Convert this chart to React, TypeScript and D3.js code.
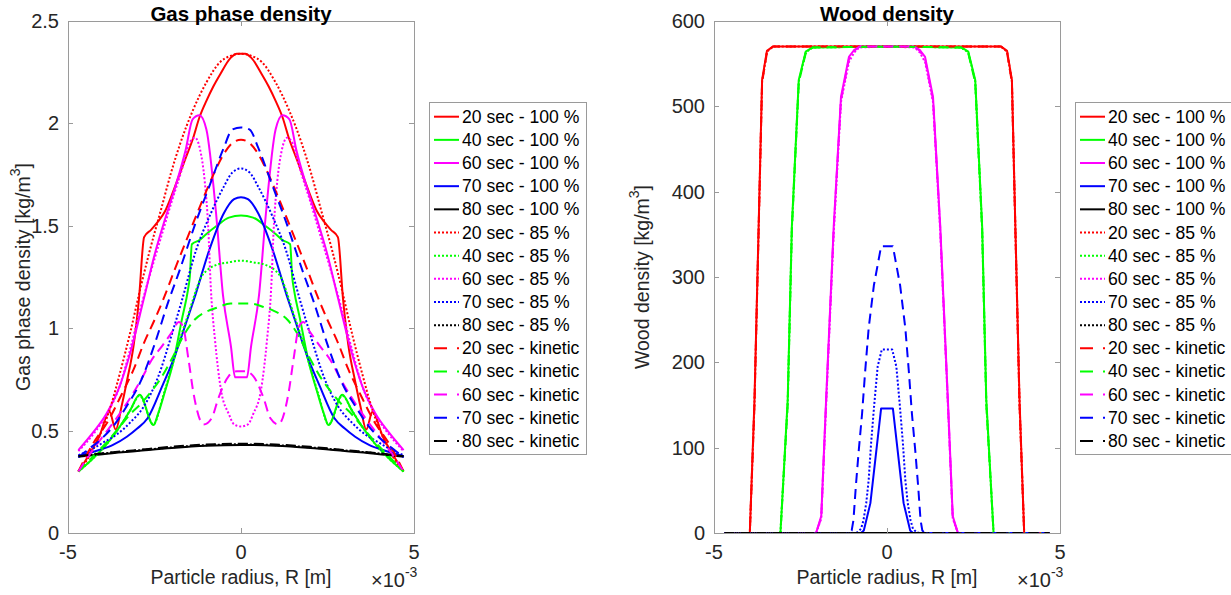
import React from 'react';
import * as d3 from 'd3';

const W = 1231;
const H = 595;

// ---- Gas phase density half-profiles (radius mm, density kg/m3) ----
const gasR_20_100 = [0, 0.12, 0.3, 0.6, 0.8, 1.0, 1.2, 1.4, 1.6, 1.8, 2.0, 2.2, 2.4, 2.6, 2.8, 2.95, 3.1, 3.3, 3.45, 3.62, 3.8, 4.1, 4.4, 4.7];
const gas_20_100 = [2.34, 2.34, 2.32, 2.24, 2.18, 2.11, 2.03, 1.92, 1.83, 1.74, 1.65, 1.57, 1.52, 1.48, 1.445, 1.14, 0.92, 0.74, 0.62, 0.505, 0.592, 0.47, 0.38, 0.3];
const gasR_40_100 = [0, 0.35, 0.7, 1.0, 1.2, 1.42, 1.48, 1.53, 1.7, 1.95, 2.2, 2.4, 2.53, 2.93, 3.2, 3.5, 3.9, 4.3, 4.7];
const gas_40_100 = [1.55, 1.54, 1.5, 1.46, 1.43, 1.41, 1.25, 1.19, 1.05, 0.84, 0.69, 0.58, 0.527, 0.675, 0.6, 0.52, 0.43, 0.36, 0.3];
const gasR_60_100 = [0, 0.17, 0.29, 0.52, 0.72, 1.0, 1.2, 1.4, 1.6, 1.9, 2.2, 2.48, 2.8, 3.2, 3.5, 3.88, 4.28, 4.7];
const gas_60_100 = [0.76, 0.76, 0.91, 1.16, 1.56, 1.97, 2.04, 2.02, 1.87, 1.69, 1.53, 1.37, 1.15, 0.88, 0.72, 0.585, 0.49, 0.405];
const gasR_70_100 = [0, 0.2, 0.5, 0.9, 1.36, 1.6, 1.9, 2.27, 2.7, 3.0, 3.3, 3.7, 4.1, 4.7];
const gas_70_100 = [1.64, 1.63, 1.56, 1.39, 1.14, 1.02, 0.87, 0.72, 0.56, 0.51, 0.47, 0.43, 0.405, 0.375];
const gasR_80_100 = [0, 1, 2, 3, 4, 4.7];
const gas_80_100 = [0.43, 0.426, 0.415, 0.4, 0.385, 0.372];

const gasR_20_85 = [0, 0.3, 0.6, 1.0, 1.4, 1.76, 2.02, 2.31, 2.65, 2.9, 3.2, 3.5, 3.8, 4.1, 4.4, 4.7];
const gas_20_85 = [2.34, 2.33, 2.3, 2.2, 2.06, 1.9, 1.76, 1.58, 1.37, 1.2, 0.98, 0.78, 0.6, 0.47, 0.37, 0.3];
const gasR_40_85 = [0, 0.4, 0.7, 1.0, 1.15, 1.33, 1.5, 1.7, 2.0, 2.25, 2.53, 2.93, 3.2, 3.5, 3.9, 4.3, 4.7];
const gas_40_85 = [1.33, 1.32, 1.31, 1.28, 1.25, 1.17, 1.08, 0.98, 0.81, 0.67, 0.53, 0.67, 0.6, 0.52, 0.43, 0.36, 0.3];
const gasR_60_85 = [0, 0.2, 0.35, 0.58, 0.75, 0.87, 0.95, 1.05, 1.18, 1.33, 1.5, 1.7, 2.0, 2.3, 2.6, 2.9, 3.2, 3.5, 3.88, 4.28, 4.7];
const gas_60_85 = [0.52, 0.53, 0.58, 0.7, 0.94, 1.19, 1.5, 1.72, 1.87, 1.93, 1.9, 1.78, 1.62, 1.45, 1.28, 1.1, 0.9, 0.72, 0.58, 0.48, 0.4];
const gasR_70_85 = [0, 0.25, 0.5, 0.9, 1.3, 1.7, 2.0, 2.4, 2.8, 3.2, 3.6, 4.0, 4.3, 4.7];
const gas_70_85 = [1.78, 1.76, 1.69, 1.55, 1.38, 1.14, 0.97, 0.76, 0.62, 0.54, 0.48, 0.44, 0.41, 0.38];
const gasR_80_85 = [0, 1, 2, 3, 4, 4.7];
const gas_80_85 = [0.433, 0.429, 0.418, 0.403, 0.388, 0.374];

const gasR_20_kin = [0, 0.2, 0.5, 0.77, 1.15, 1.53, 1.93, 2.2, 2.5, 2.8, 3.1, 3.44, 3.83, 4.3, 4.7];
const gas_20_kin = [1.92, 1.91, 1.85, 1.76, 1.61, 1.45, 1.28, 1.16, 1.04, 0.93, 0.8, 0.68, 0.55, 0.43, 0.3];
const gasR_40_kin = [0, 0.3, 0.7, 0.95, 1.35, 1.64, 1.97, 2.3, 2.6, 2.9, 3.2, 3.5, 3.9, 4.3, 4.7];
const gas_40_kin = [1.12, 1.12, 1.1, 1.085, 1.04, 0.97, 0.86, 0.76, 0.69, 0.63, 0.58, 0.52, 0.44, 0.37, 0.3];
const gasR_60_kin = [0, 0.12, 0.36, 0.65, 0.85, 1.08, 1.37, 1.52, 1.68, 1.8, 2.0, 2.25, 2.6, 2.85, 3.2, 3.6, 4.0, 4.35, 4.7];
const gas_60_kin = [0.79, 0.79, 0.765, 0.66, 0.56, 0.53, 0.68, 0.85, 1.01, 1.03, 0.98, 0.92, 0.84, 0.76, 0.66, 0.56, 0.47, 0.39, 0.3];
const gasR_70_kin = [0, 0.25, 0.5, 0.9, 1.3, 1.8, 2.1, 2.5, 2.9, 3.3, 3.7, 4.1, 4.4, 4.7];
const gas_70_kin = [1.98, 1.97, 1.88, 1.7, 1.52, 1.27, 1.13, 0.92, 0.74, 0.62, 0.52, 0.45, 0.41, 0.37];
const gasR_80_kin = [0, 1, 2, 3, 4, 4.7];
const gas_80_kin = [0.436, 0.432, 0.421, 0.405, 0.389, 0.375];

// ---- Wood density half-profiles (radius mm, density kg/m3) ----
const woodR_20 = [0, 3.3, 3.47, 3.61, 3.71, 3.83, 3.965, 4.7];
const wood_20_100 = [570, 570, 565, 531, 359, 156, 0, 0];
const wood_20_85 = [570, 570, 564, 529, 356, 152, 0, 0];
const wood_20_kin = [570, 570, 563, 528, 355, 150, 0, 0];
const woodR_40 = [0, 2.15, 2.35, 2.55, 2.75, 2.87, 3.08, 4.7];
const wood_40_100 = [570, 569, 564, 531, 359, 156, 0, 0];
const wood_40_85 = [570, 569, 563, 529, 357, 153, 0, 0];
const wood_40_kin = [570, 569, 562, 528, 355, 150, 0, 0];
const woodR_60 = [0, 0.8, 0.95, 1.1, 1.33, 1.54, 1.76, 1.9, 2.05, 4.7];
const wood_60_100 = [570, 570, 566, 558, 511, 359, 156, 20, 0, 0];
const wood_60_85 = [570, 569, 563, 552, 505, 352, 150, 17, 0, 0];
const wood_60_kin = [570, 570, 565, 555, 508, 356, 153, 18, 0, 0];
const woodR_70_100 = [0, 0.17, 0.48, 0.67, 0.75, 4.7];
const wood_70_100 = [146, 146, 35, 3, 0, 0];
const woodR_70_85 = [0, 0.15, 0.27, 0.37, 0.46, 0.53, 0.6, 0.68, 0.75, 0.85, 0.95, 4.7];
const wood_70_85 = [215, 215, 195, 150, 105, 62, 35, 15, 5, 1, 0, 0];
const woodR_70_kin = [0, 0.17, 0.22, 0.38, 0.53, 0.63, 0.72, 0.82, 0.9, 0.97, 1.02, 1.1, 4.7];
const wood_70_kin = [336, 336, 325, 290, 240, 190, 140, 95, 55, 15, 3, 0, 0];
const woodR_80 = [0, 4.7];
const wood_80 = [0, 0];

const times = ['20 sec', '40 sec', '60 sec', '70 sec', '80 sec'];
const cases = ['100 %', '85 %', 'kinetic'];
const colors = ['#ff0000', '#00ff00', '#ff00ff', '#0000ff', '#000000'];
const dashes = [null, '2,2', '10,6'];

const gasTicks = [0, 0.5, 1, 1.5, 2, 2.5];
const woodTicks = [0, 100, 200, 300, 400, 500, 600];
const xTicks = [-5, 0, 5];

const gasData = [
  [gasR_20_100, gas_20_100], [gasR_40_100, gas_40_100], [gasR_60_100, gas_60_100], [gasR_70_100, gas_70_100], [gasR_80_100, gas_80_100],
  [gasR_20_85, gas_20_85], [gasR_40_85, gas_40_85], [gasR_60_85, gas_60_85], [gasR_70_85, gas_70_85], [gasR_80_85, gas_80_85],
  [gasR_20_kin, gas_20_kin], [gasR_40_kin, gas_40_kin], [gasR_60_kin, gas_60_kin], [gasR_70_kin, gas_70_kin], [gasR_80_kin, gas_80_kin],
];
const woodData = [
  [woodR_20, wood_20_100], [woodR_40, wood_40_100], [woodR_60, wood_60_100], [woodR_70_100, wood_70_100], [woodR_80, wood_80],
  [woodR_20, wood_20_85], [woodR_40, wood_40_85], [woodR_60, wood_60_85], [woodR_70_85, wood_70_85], [woodR_80, wood_80],
  [woodR_20, wood_20_kin], [woodR_40, wood_40_kin], [woodR_60, wood_60_kin], [woodR_70_kin, wood_70_kin], [woodR_80, wood_80],
];

function mirror(r: number[], v: number[]): [number, number][] {
  const pts: [number, number][] = [];
  for (let i = r.length - 1; i >= 0; i--) if (r[i] !== 0) pts.push([-r[i] * 1e-3, v[i]]);
  for (let i = 0; i < r.length; i++) pts.push([r[i] * 1e-3, v[i]]);
  return pts;
}

const FONT = "'Liberation Sans', Arial, Helvetica, sans-serif";
const AX = '#262626';
const FRAME = '#9a9a9a';
const TICK_FS = 20;

type PanelProps = {
  x0: number; x1: number; y0: number; y1: number;
  yMax: number; yTicks: number[]; data: number[][][];
  title: string; ylabel: string; ylabelX: number; legendX: number; smooth: boolean;
};

function Panel(p: PanelProps) {
  const x = d3.scaleLinear().domain([-5e-3, 5e-3]).range([p.x0, p.x1]);
  const y = d3.scaleLinear().domain([0, p.yMax]).range([p.y1, p.y0]);
  const line = d3.line<[number, number]>()
    .x(d => x(d[0]))
    .y(d => y(d[1]))
    .curve(p.smooth ? d3.curveMonotoneX : d3.curveLinear);
  const clipId = 'clip' + p.x0;
  const cx = (p.x0 + p.x1) / 2;
  const cy = (p.y0 + p.y1) / 2;
  const legTop = 102;
  const legH = 352;
  const legW = 157;
  const rowH = 23.16;
  return (
    <g>
      <defs>
        <clipPath id={clipId}>
          <rect x={p.x0} y={p.y0} width={p.x1 - p.x0} height={p.y1 - p.y0} />
        </clipPath>
      </defs>
      <rect x={p.x0} y={p.y0} width={p.x1 - p.x0} height={p.y1 - p.y0} fill="#fff" />
      <g clipPath={`url(#${clipId})`}>
        {p.data.map((s, i) => (
          <path key={i} d={line(mirror(s[0] as number[], s[1] as number[])) || ''}
            fill="none" stroke={colors[i % 5]} strokeWidth={2}
            strokeDasharray={dashes[Math.floor(i / 5)] || undefined} strokeLinejoin="round" />
        ))}
      </g>
      <rect x={p.x0 + 0.5} y={p.y0 + 0.5} width={p.x1 - p.x0} height={p.y1 - p.y0} fill="none" stroke={FRAME} strokeWidth={1} />
      {p.yTicks.map(t => (
        <g key={'y' + t}>
          <line x1={p.x0} x2={p.x0 + 5} y1={Math.round(y(t)) + 0.5} y2={Math.round(y(t)) + 0.5} stroke={FRAME} />
          <line x1={p.x1} x2={p.x1 - 5} y1={Math.round(y(t)) + 0.5} y2={Math.round(y(t)) + 0.5} stroke={FRAME} />
          <text x={p.x0 - 9} y={y(t)} textAnchor="end" dominantBaseline="central" fontSize={TICK_FS} fill={AX} fontFamily={FONT}>{String(t)}</text>
        </g>
      ))}
      {xTicks.map(t => (
        <g key={'x' + t}>
          <line x1={Math.round(x(t * 1e-3)) + 0.5} x2={Math.round(x(t * 1e-3)) + 0.5} y1={p.y1} y2={p.y1 - 5} stroke={FRAME} />
          <line x1={Math.round(x(t * 1e-3)) + 0.5} x2={Math.round(x(t * 1e-3)) + 0.5} y1={p.y0} y2={p.y0 + 5} stroke={FRAME} />
          <text x={x(t * 1e-3)} y={p.y1 + 19} textAnchor="middle" dominantBaseline="central" fontSize={TICK_FS} fill={AX} fontFamily={FONT}>{String(t)}</text>
        </g>
      ))}
      <text x={p.x1 - 43} y={p.y1 + 47} dominantBaseline="central" fontSize={TICK_FS} fill={AX} fontFamily={FONT}>
        ×10<tspan fontSize={14} dy={-8}>-3</tspan>
      </text>
      <text x={cx} y={p.y1 + 44} textAnchor="middle" dominantBaseline="central" fontSize={19.5} fill={AX} fontFamily={FONT}>Particle radius, R [m]</text>
      <text x={cx} y={13} textAnchor="middle" dominantBaseline="central" fontSize={20.5} fontWeight="bold" fill="#000" fontFamily={FONT}>{p.title}</text>
      <text transform={`translate(${p.ylabelX},${cy}) rotate(-90)`} textAnchor="middle" dominantBaseline="central" fontSize={19.5} fill={AX} fontFamily={FONT}>
        {p.ylabel} [kg/m<tspan fontSize={14} dy={-8}>3</tspan><tspan dy={8}>]</tspan>
      </text>
      <rect x={p.legendX + 0.5} y={legTop + 0.5} width={legW} height={legH} fill="#fff" stroke={FRAME} />
      {p.data.map((_, i) => {
        const yy = legTop + 14.7 + i * rowH;
        const lbl = `${times[i % 5]} - ${cases[Math.floor(i / 5)]}`;
        const dsh = dashes[Math.floor(i / 5)];
        return (
          <g key={'l' + i}>
            <line x1={p.legendX + 5} x2={p.legendX + 30} y1={yy} y2={yy} stroke={colors[i % 5]} strokeWidth={2}
              strokeDasharray={dsh === '10,6' ? '13,10' : (dsh || undefined)} />
            <text x={p.legendX + 33} y={yy} dominantBaseline="central" fontSize={17.6} fill="#000" fontFamily={FONT}>{lbl}</text>
          </g>
        );
      })}
    </g>
  );
}

export default function App() {
  return (
    <svg width={W} height={H} style={{ position: 'absolute', left: 0, top: 0, display: 'block', background: '#fff' }}>
      <rect x={0} y={0} width={W} height={H} fill="#fff" />
      <Panel x0={68} x1={414} y0={21} y1={533} yMax={2.5} yTicks={gasTicks} data={gasData}
        title="Gas phase density" ylabel="Gas phase density" ylabelX={23} legendX={429} smooth={true} />
      <Panel x0={714} x1={1060} y0={21} y1={533} yMax={600} yTicks={woodTicks} data={woodData}
        title="Wood density" ylabel="Wood density" ylabelX={642} legendX={1075} smooth={false} />
    </svg>
  );
}
